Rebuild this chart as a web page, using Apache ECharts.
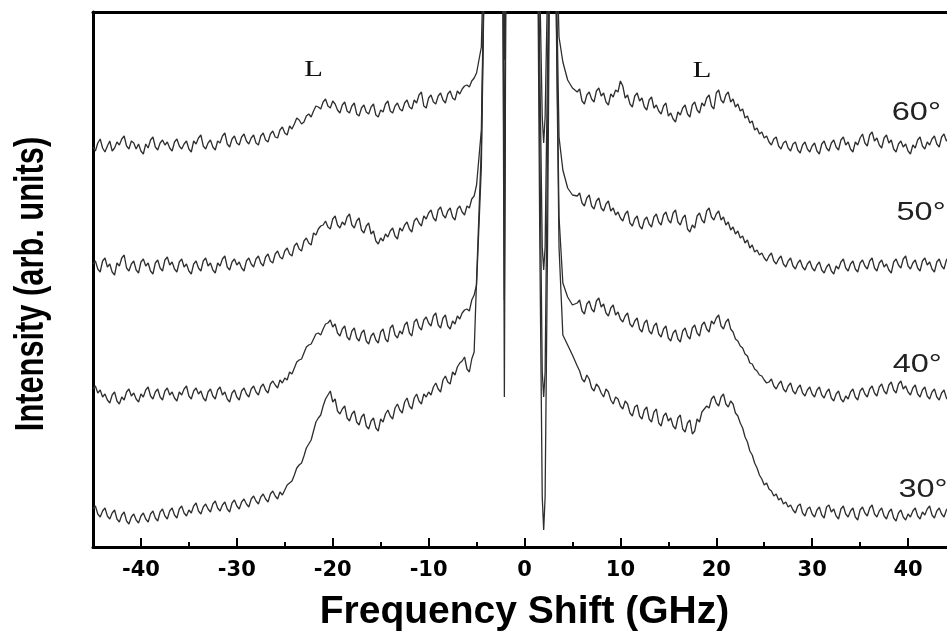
<!DOCTYPE html>
<html><head><meta charset="utf-8">
<script src="https://cdn.jsdelivr.net/npm/echarts@6/dist/echarts.min.js"></script>
<style>html,body{margin:0;padding:0;background:#fff}#c{width:947px;height:634px}</style>
</head><body><div id="c"></div>
<script>
// Frequency grid (GHz): left wing, central (laser / elastic) region, right wing,
// plus the in-between quarter-step positions of both wings
const freqL = [
-45,-44.5,-44,-43.5,-43,-42.5,-42,-41.5,-41,-40.5,
-40,-39.5,-39,-38.5,-38,-37.5,-37,-36.5,-36,-35.5,
-35,-34.5,-34,-33.5,-33,-32.5,-32,-31.5,-31,-30.5,
-30,-29.5,-29,-28.5,-28,-27.5,-27,-26.5,-26,-25.5,
-25,-24.5,-24,-23.5,-23,-22.5,-22,-21.5,-21,-20.5,
-20,-19.5,-19,-18.5,-18,-17.5,-17,-16.5,-16,-15.5,
-15,-14.5,-14,-13.5,-13,-12.5,-12,-11.5,-11,-10.5,
-10,-9.5,-9,-8.5,-8,-7.5,-7,-6.5,-6,-5.5,
-5];
const freqLh = [
-44.75,-44.25,-43.75,-43.25,-42.75,-42.25,-41.75,-41.25,-40.75,-40.25,
-39.75,-39.25,-38.75,-38.25,-37.75,-37.25,-36.75,-36.25,-35.75,-35.25,
-34.75,-34.25,-33.75,-33.25,-32.75,-32.25,-31.75,-31.25,-30.75,-30.25,
-29.75,-29.25,-28.75,-28.25,-27.75,-27.25,-26.75,-26.25,-25.75,-25.25,
-24.75,-24.25,-23.75,-23.25,-22.75,-22.25,-21.75,-21.25,-20.75,-20.25,
-19.75,-19.25,-18.75,-18.25,-17.75,-17.25,-16.75,-16.25,-15.75,-15.25,
-14.75,-14.25,-13.75,-13.25,-12.75,-12.25,-11.75,-11.25,-10.75,-10.25,
-9.75,-9.25,-8.75,-8.25,-7.75,-7.25,-6.75,-6.25,-5.75,-5.25];
const freqC = [-4.5,-4,-3,-2.3,-2.1,-1.9,-1,0,1,1.3,1.6,1.85,2,2.15,2.4,2.7,3.1,3.6,4,4.5,5];
const freqR = [
5.5,6,6.5,7,7.5,8,8.5,9,9.5,10,
10.5,11,11.5,12,12.5,13,13.5,14,14.5,15,
15.5,16,16.5,17,17.5,18,18.5,19,19.5,20,
20.5,21,21.5,22,22.5,23,23.5,24,24.5,25,
25.5,26,26.5,27,27.5,28,28.5,29,29.5,30,
30.5,31,31.5,32,32.5,33,33.5,34,34.5,35,
35.5,36,36.5,37,37.5,38,38.5,39,39.5,40,
40.5,41,41.5,42,42.5,43,43.5,44,44.5];
const freqRh = [
5.75,6.25,6.75,7.25,7.75,8.25,8.75,9.25,9.75,10.25,
10.75,11.25,11.75,12.25,12.75,13.25,13.75,14.25,14.75,15.25,
15.75,16.25,16.75,17.25,17.75,18.25,18.75,19.25,19.75,20.25,
20.75,21.25,21.75,22.25,22.75,23.25,23.75,24.25,24.75,25.25,
25.75,26.25,26.75,27.25,27.75,28.25,28.75,29.25,29.75,30.25,
30.75,31.25,31.75,32.25,32.75,33.25,33.75,34.25,34.75,35.25,
35.75,36.25,36.75,37.25,37.75,38.25,38.75,39.25,39.75,40.25,
40.75,41.25,41.75,42.25,42.75,43.25,43.75,44.25];

// Intensity (arb. units, traces already vertically offset) — 60°
const i60L = [
400,404,399,401,396,405,408,401,406,398,
396,403,407,400,404,402,399,405,401,403,
398,406,409,401,404,400,406,411,403,408,
404,410,406,409,404,411,407,413,410,417,
414,421,423,427,425,433,436,440,445,441,
446,437,442,436,441,433,439,435,440,432,
437,443,436,441,438,444,440,447,452,441,
449,445,451,447,453,449,456,458,462,466,
474];
const i60Lh = [
396,408,395,406,399,402,411,398,404,403,
393,399,410,397,407,405,396,408,398,406,
395,403,412,398,407,397,404,414,400,411,
402,413,403,412,402,414,405,416,409,420,
412,418,429,423,431,430,441,438,448,439,
443,434,445,434,444,431,442,433,443,430,
435,446,434,444,436,447,438,444,455,439,
452,443,454,444,456,447,453,461,460,469];
const i60C = [500,700,700,700,487,700,700,700,700,700,560,430,404,430,560,700,700,510,485,467,459];
const i60R = [
455,446,452,448,456,451,445,453,457,466,
449,443,451,446,440,447,439,436,441,431,
428,435,439,433,442,437,444,449,441,454,
447,452,445,440,436,429,424,417,413,409,
405,408,401,404,399,403,397,402,398,401,
396,403,399,404,400,407,402,398,405,409,
404,412,406,402,409,404,398,403,400,396,
402,407,401,405,408,403,410,406,404];
const i60Rh = [
458,443,455,445,459,454,442,450,455,461,
452,440,454,449,437,450,442,433,444,434,
425,432,442,430,445,434,441,452,438,457,
444,455,448,443,438,431,426,419,415,411,
402,410,398,406,396,405,394,405,395,404,
393,406,396,407,397,410,405,395,402,413,
401,415,409,399,412,407,395,406,403,393,
399,410,398,402,411,400,413,409];

// 50°
const i50L = [
283,278,286,280,275,284,289,279,283,277,
285,281,276,284,279,287,282,278,285,280,
276,283,279,286,281,277,284,288,280,285,
282,279,286,283,288,284,290,286,293,290,
296,293,301,298,306,304,314,318,322,320,
328,322,325,330,322,326,317,321,313,306,
309,313,316,311,319,322,318,326,324,331,
334,329,337,332,336,330,338,335,341,348,
362];
const i50Lh = [
286,275,289,283,272,281,292,276,286,274,
288,284,273,287,276,290,285,275,288,283,
273,286,276,289,284,274,281,291,277,288,
285,276,289,280,291,281,293,284,296,288,
299,291,304,296,309,302,312,321,326,318,
331,319,322,333,319,329,314,324,316,303,
306,310,319,308,316,325,315,329,321,328,
337,326,340,329,339,327,341,332,339,351];
const i50C = [417,700,700,700,330,700,700,700,700,700,480,300,277,300,480,700,700,410,377,359,352];
const i50R = [
351,344,349,341,346,339,343,336,332,329,
333,324,328,321,327,323,330,325,332,327,
334,325,329,318,322,331,327,336,330,333,
327,322,317,313,309,304,299,295,292,289,
291,286,288,283,286,281,284,280,283,279,
282,277,280,276,281,285,279,283,278,284,
281,286,279,284,280,277,285,282,288,281,
284,279,286,282,278,285,281,287,283];
const i50Rh = [
354,341,352,338,349,336,346,339,335,326,
336,321,331,318,330,320,333,322,335,324,
337,322,332,315,319,334,324,339,327,336,
330,325,320,316,311,307,302,297,294,286,
294,283,291,280,289,278,287,277,286,276,
285,274,283,273,278,288,276,286,275,287,
278,289,276,287,283,274,288,279,291,278,
287,276,289,285,275,288,278,290];

// 40°
const i40L = [
158,154,150,147,152,146,150,155,151,148,
153,157,151,155,150,156,152,149,155,158,
151,156,153,149,155,151,157,152,148,154,
150,156,153,158,155,160,157,163,162,167,
169,175,179,187,194,202,208,214,218,224,
220,214,218,210,216,209,214,206,211,207,
215,208,219,212,216,222,214,225,220,227,
224,231,222,229,221,226,231,234,238,247,
262];
const i40Lh = [
161,157,153,144,155,143,147,158,154,145,
150,160,148,158,147,159,155,146,152,161,
148,159,156,146,158,148,160,155,145,157,
147,159,150,161,152,163,154,166,159,164,
167,173,185,188,200,203,213,212,223,227,
223,211,221,207,219,206,217,203,214,204,
218,205,222,209,213,225,211,228,217,230,
221,234,219,232,218,223,228,237,236,252];
const i40C = [380,700,700,700,247,700,700,700,700,700,400,175,150,175,400,700,700,330,264,250,242];
const i40R = [
244,236,243,238,246,240,234,239,232,228,
231,223,226,218,224,216,221,213,218,209,
214,208,216,211,219,214,222,218,226,229,
221,225,218,208,201,193,184,178,172,167,
165,161,163,158,161,156,159,154,157,153,
157,152,155,149,153,148,151,155,150,156,
153,158,154,160,156,162,157,163,158,155,
159,153,157,151,155,150,154,149,153];
const i40Rh = [
247,233,246,235,249,243,231,242,235,225,
234,220,229,215,227,213,224,210,221,206,
217,205,219,208,222,211,225,215,223,232,
218,228,215,206,199,191,183,176,171,164,
168,158,166,155,164,153,162,151,160,150,
160,149,158,146,156,145,148,158,147,159,
150,161,151,163,153,165,154,166,161,152,
162,150,160,148,158,147,157,146];

// 30°
const i30L = [
38,33,36,31,34,28,32,26,30,27,
31,28,33,29,35,31,36,32,38,34,
37,41,36,40,38,43,39,42,38,44,
41,45,43,48,46,50,48,53,51,55,
57,64,72,82,91,103,116,129,141,152,
145,136,138,129,133,125,130,121,126,119,
128,133,131,139,137,145,141,149,146,153,
155,160,158,167,165,175,180,186,178,188,
267];
const i30Lh = [
41,30,39,28,37,25,35,23,33,24,
34,25,36,26,38,28,39,29,41,31,
34,44,33,43,35,46,36,45,35,47,
38,48,40,51,43,53,45,56,48,52,
62,66,79,84,99,107,125,132,148,156,
148,133,141,126,136,122,133,118,129,116,
125,137,128,143,134,149,138,153,143,150,
152,164,155,171,163,172,184,190,175,195];
const i30C = [400,700,700,700,150,700,700,700,700,700,300,50,17,50,300,700,700,300,212,202,192];
const i30R = [
181,168,172,159,163,154,158,147,150,141,
146,134,140,131,137,128,135,124,131,126,
121,129,118,124,113,128,135,141,148,144,
150,143,146,134,124,110,96,84,72,62,
58,51,47,43,40,37,41,34,38,33,
37,32,40,35,31,38,33,36,30,37,
34,39,33,36,31,35,29,34,30,33,
36,31,35,38,32,36,33,37,34];
const i30Rh = [
176,165,168,156,160,150,155,143,148,138,
143,131,142,128,140,125,138,121,134,129,
118,132,115,127,116,125,138,139,151,141,
153,140,143,131,119,105,92,79,68,64,
56,53,49,45,42,34,43,31,40,30,
40,29,42,38,28,41,30,39,27,40,
31,42,30,39,28,38,26,37,27,30,
39,28,32,41,29,39,30,40];

// Axis ticks / labels
const majorTicks = [-40,-30,-20,-10,0,10,20,30,40];
const minorTicks = [-35,-25,-15,-5,5,15,25,35,45];

// Annotations: angle labels (left edge, vertical centre) and L peak markers
const angleText = ['60°','50°','40°','30°'];
const angleX = [38.3,38.8,38.4,39.0];
const angleY = [434,334,182,57];
const peakText = ['L','L'];
const peakX = [-22.0,18.5];
const peakY = [477,476];

function buildTrace(parts) {
  // parts: list of [freqArray, valueArray]; merged and ordered by frequency
  const pts = [];
  parts.forEach(function (p) {
    const n = Math.min(p[0].length, p[1].length);
    for (let i = 0; i < n; i++) pts.push([p[0][i], p[1][i]]);
  });
  pts.sort(function (a, b) { return a[0] - b[0]; });
  return pts;
}
const traces = [
  buildTrace([[freqL, i60L], [freqLh, i60Lh], [freqC, i60C], [freqR, i60R], [freqRh, i60Rh]]),
  buildTrace([[freqL, i50L], [freqLh, i50Lh], [freqC, i50C], [freqR, i50R], [freqRh, i50Rh]]),
  buildTrace([[freqL, i40L], [freqLh, i40Lh], [freqC, i40C], [freqR, i40R], [freqRh, i40Rh]]),
  buildTrace([[freqL, i30L], [freqLh, i30Lh], [freqC, i30C], [freqR, i30R], [freqRh, i30Rh]])
];

const chart = echarts.init(document.getElementById('c'), null, {renderer:'canvas'});
const lineColor = '#2e2e2e';
const option = {
  animation: false,
  backgroundColor: '#fff',
  grid: {left: 93, right: -9, top: 12, bottom: 87, containLabel: false, outerBoundsMode: 'none'},
  xAxis: [
    {
      type: 'value', min: -45, max: 45, position: 'bottom',
      axisLine: {show: true, onZero: false, lineStyle: {color: '#000', width: 3}},
      axisTick: {show: true, inside: true, length: 9, customValues: majorTicks, lineStyle: {color: '#000', width: 2}},
      axisLabel: {show: true, customValues: majorTicks, margin: 13,
        fontFamily: 'DejaVu Sans', fontWeight: 'bold', fontSize: 21, color: '#000'},
      splitLine: {show: false},
      name: 'Frequency Shift (GHz)', nameLocation: 'middle', nameGap: 46,
      nameTextStyle: {fontFamily: 'Liberation Sans', fontWeight: 'bold', fontSize: 39, color: '#000'}
    },
    {
      type: 'value', min: -45, max: 45, position: 'bottom',
      axisLine: {show: false},
      axisTick: {show: true, inside: true, length: 5, customValues: minorTicks, lineStyle: {color: '#000', width: 2}},
      axisLabel: {show: false}, splitLine: {show: false}
    },
    {
      type: 'value', min: -45, max: 45, position: 'top',
      axisLine: {show: true, onZero: false, lineStyle: {color: '#000', width: 3}},
      axisTick: {show: false}, axisLabel: {show: false}, splitLine: {show: false}
    }
  ],
  yAxis: {
    type: 'value', min: 0, max: 535,
    axisLine: {show: true, onZero: false, lineStyle: {color: '#000', width: 3}},
    axisTick: {show: false}, axisLabel: {show: false}, splitLine: {show: false}
  },
  series: traces.map(function (pts) {
    return {
      type: 'line', xAxisIndex: 0, yAxisIndex: 0,
      data: pts,
      showSymbol: false, symbol: 'none', clip: true,
      lineStyle: {color: lineColor, width: 1.3},
      z: 1
    };
  })
};
chart.setOption(option);

function px(x, y) { return chart.convertToPixel({gridIndex: 0}, [x, y]); }
const graphics = [];
angleText.forEach(function (t, i) {
  const p = px(angleX[i], angleY[i]);
  graphics.push({type: 'text', x: p[0], y: p[1], scaleX: 1.3, z: 10,
    style: {text: t, font: '25px "Liberation Sans"', fill: '#222', textAlign: 'left', textVerticalAlign: 'middle'}});
});
peakText.forEach(function (t, i) {
  const p = px(peakX[i], peakY[i]);
  graphics.push({type: 'text', x: p[0], y: p[1], scaleX: 1.35, z: 10,
    style: {text: t, font: '23px "Liberation Serif"', fill: '#111', textAlign: 'center', textVerticalAlign: 'middle'}});
});
graphics.push({type: 'text', x: 32, y: 284, rotation: Math.PI / 2, scaleX: 0.77, z: 10,
  style: {text: 'Intensity (arb. units)', font: 'bold 40px "Liberation Sans"', fill: '#000', textAlign: 'center', textVerticalAlign: 'middle'}});
chart.setOption({graphic: graphics});
</script>
</body></html>
